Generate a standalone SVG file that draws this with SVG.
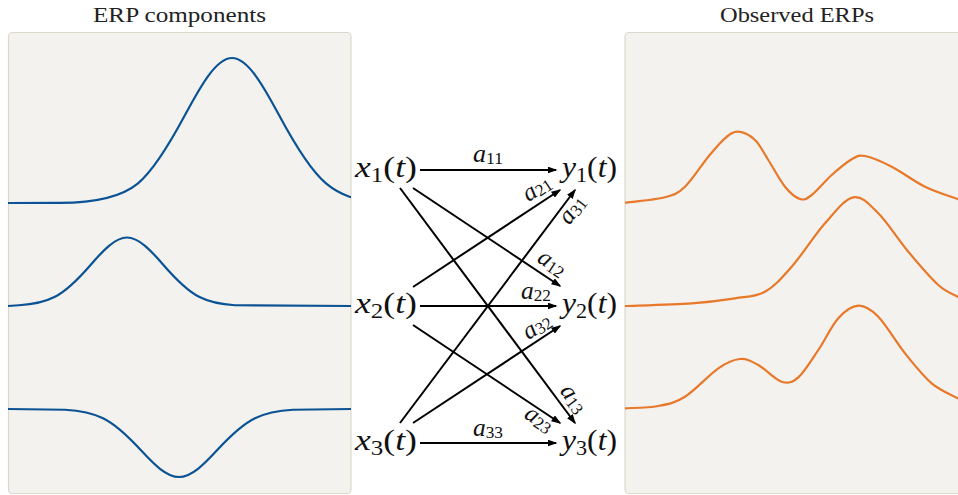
<svg xmlns="http://www.w3.org/2000/svg" width="958" height="495" viewBox="0 0 958 495">
<style>
.panel{fill:#f3f2ee;stroke:#dcd9cb;stroke-width:1.2}
.blue{fill:none;stroke:#0b5394;stroke-width:2.2;stroke-linejoin:round}
.orange{fill:none;stroke:#e8782a;stroke-width:2.2;stroke-linejoin:round}
.title{font-family:"Liberation Serif",serif;font-size:22px;fill:#222}
.lbl{font-family:"Liberation Serif",serif;font-size:30px;fill:#111}
.sub{font-size:21px;font-style:normal}
.it{font-style:italic}
.al{font-family:"Liberation Serif",serif;font-size:25px;fill:#111}
.asub{font-size:17px;font-style:normal}
.arr{fill:none;stroke:#000;stroke-width:2}
</style>
<defs>
<marker id="ah" markerUnits="userSpaceOnUse" markerWidth="10" markerHeight="7" refX="8.5" refY="3.5" orient="auto">
<path d="M0,0 L10,3.5 L0,7 z" fill="#000"/>
</marker>
<clipPath id="clipL"><rect x="8" y="32" width="343" height="462" rx="4"/></clipPath>
<clipPath id="clipR"><rect x="624.5" y="32" width="345" height="462" rx="4"/></clipPath>
</defs>
<rect width="958" height="495" fill="#ffffff"/>

<g id="panel-components">
<text class="title" x="93" y="22" textLength="173" lengthAdjust="spacingAndGlyphs">ERP components</text>
<rect class="panel" x="8.5" y="32.5" width="342.5" height="461" rx="4"/>
<g clip-path="url(#clipL)">
<path class="blue" d="M8,203 L60,202.95 C95,202.8 122,196.7 138,183.38 C153.7,170.3 169.3,144.38 185,115.06 C200.7,85.74 216.3,58 232,58 C247.7,58 263.3,85.74 279,115.06 C294.7,144.38 310.3,170.3 326,183.38 C341.7,196.46 357.3,199.78 373,201.39"/>
<path class="blue" d="M8,306 L19,305.24 C31,304.48 43,302.91 55,296.73 C67,290.55 79,278.31 91,264.45 C103,250.6 115,237.5 127,237.5 C139,237.5 151,250.6 163,264.45 C175,278.31 187,290.55 199,296.73 C211,302.91 223,304.48 235,305.24 L352,306"/>
<path class="blue" d="M8,409 L65,409.75 C77.7,410.51 90.3,412.07 103,418.2 C115.7,424.33 128.3,436.49 141,450.24 C153.7,463.99 166.3,477 179,477 C191.7,477 204.3,463.99 217,450.24 C229.7,436.49 242.3,424.33 255,418.2 C267.7,412.07 280.3,410.51 293,409.75 L352,409"/>
</g>
</g>

<g id="panel-observed">
<text class="title" x="720" y="22" textLength="154" lengthAdjust="spacingAndGlyphs">Observed ERPs</text>
<rect class="panel" x="625" y="32.5" width="345" height="461" rx="4"/>
<g clip-path="url(#clipR)">
<path class="orange" d="M625,202.7 C631.7,201.8 655,200 665,197.3 C675,194.6 677.8,193.5 685,186.7 C692.2,179.9 701.6,164.8 708.3,156.7 C715,148.6 720,142.5 725,138.3 C730,134.1 733.3,131.4 738.3,131.7 C743.3,132 750,135.3 755,140 C760,144.7 763.3,152.2 768.3,160 C773.3,167.8 779.7,180.2 785,186.7 C790.3,193.2 795.6,197.6 800,199 C804.5,200.4 806.4,199 811.7,195 C817,191 825,181 831.7,175 C838.4,169.1 846.2,162.5 851.7,159.3 C857.3,156.1 858.3,154.8 865,156 C871.7,157.2 881.7,161.6 891.7,166.7 C901.7,171.8 914,181.3 925,186.7 C936,192.1 952.3,197 957.7,199 L968,202"/>
<path class="orange" d="M625,306 C636.1,305.55 673.4,304.6 691.7,303.3 C710,302 722.8,300.2 735,298.3 C747.2,296.4 755.6,297 765,291.7 C774.5,286.4 781.7,278.1 791.7,266.7 C801.7,255.3 814.7,234.9 825,223.3 C835.3,211.7 844.4,199 853.3,197.3 C862.2,195.6 869.1,204.2 878.3,213.3 C887.5,222.4 898.3,239.8 908.3,251.7 C918.3,263.7 930.1,277.5 938.3,285 C946.5,292.5 954.5,294.8 957.7,296.7 L968,302"/>
<path class="orange" d="M625,408.3 C630.55,407.9 648.3,407.9 658.3,406 C668.3,404.1 675,403 685,396.7 C695,390.4 709.1,374.6 718.3,368.3 C727.5,362 733.3,359.55 740,359 C746.7,358.45 751.4,361.2 758.3,365 C765.3,368.8 775,379.65 781.7,381.7 C788.4,383.8 792.2,382.6 798.3,377.3 C804.4,372 811.6,359.8 818.3,350 C825,340.2 831.6,325.7 838.3,318.3 C845,310.9 851.6,306 858.3,305.7 C865,305.4 870.5,308.8 878.3,316.7 C886.1,324.6 896.1,342.2 905,353.3 C913.9,364.4 922.9,375.8 931.7,383.3 C940.5,390.8 953.4,395.8 957.7,398.3 L968,402"/>
</g>
</g>

<g id="x1"><text class="lbl" x="355" y="177" textLength="62" lengthAdjust="spacingAndGlyphs"><tspan class="it">x</tspan><tspan class="sub" dy="5">1</tspan><tspan dy="-5">(</tspan><tspan class="it">t</tspan>)</text></g>
<g id="x2"><text class="lbl" x="355" y="313" textLength="62" lengthAdjust="spacingAndGlyphs"><tspan class="it">x</tspan><tspan class="sub" dy="5">2</tspan><tspan dy="-5">(</tspan><tspan class="it">t</tspan>)</text></g>
<g id="x3"><text class="lbl" x="355" y="450" textLength="62" lengthAdjust="spacingAndGlyphs"><tspan class="it">x</tspan><tspan class="sub" dy="5">3</tspan><tspan dy="-5">(</tspan><tspan class="it">t</tspan>)</text></g>
<g id="y1"><text class="lbl" x="562" y="177" textLength="55" lengthAdjust="spacingAndGlyphs"><tspan class="it">y</tspan><tspan class="sub" dy="5">1</tspan><tspan dy="-5">(</tspan><tspan class="it">t</tspan>)</text></g>
<g id="y2"><text class="lbl" x="562" y="313" textLength="55" lengthAdjust="spacingAndGlyphs"><tspan class="it">y</tspan><tspan class="sub" dy="5">2</tspan><tspan dy="-5">(</tspan><tspan class="it">t</tspan>)</text></g>
<g id="y3"><text class="lbl" x="562" y="450" textLength="55" lengthAdjust="spacingAndGlyphs"><tspan class="it">y</tspan><tspan class="sub" dy="5">3</tspan><tspan dy="-5">(</tspan><tspan class="it">t</tspan>)</text></g>

<g id="connectors">
<line class="arr" x1="420" y1="170" x2="556" y2="170" marker-end="url(#ah)"/>
<line class="arr" x1="413" y1="188" x2="560" y2="286" marker-end="url(#ah)"/>
<line class="arr" x1="400" y1="188" x2="575" y2="423" marker-end="url(#ah)"/>
<line class="arr" x1="413" y1="287" x2="560" y2="190" marker-end="url(#ah)"/>
<line class="arr" x1="420" y1="306" x2="556" y2="306" marker-end="url(#ah)"/>
<line class="arr" x1="413" y1="325" x2="560" y2="423" marker-end="url(#ah)"/>
<line class="arr" x1="400" y1="423" x2="575" y2="190" marker-end="url(#ah)"/>
<line class="arr" x1="413" y1="423" x2="560" y2="326" marker-end="url(#ah)"/>
<line class="arr" x1="420" y1="443" x2="556" y2="443" marker-end="url(#ah)"/>

<text class="al" x="473" y="161.5" textLength="30" lengthAdjust="spacingAndGlyphs"><tspan class="it">a</tspan><tspan class="asub" dy="2">11</tspan></text>
<text class="al" x="521" y="298.5" textLength="30" lengthAdjust="spacingAndGlyphs"><tspan class="it">a</tspan><tspan class="asub" dy="2">22</tspan></text>
<text class="al" x="473" y="435.5" textLength="30" lengthAdjust="spacingAndGlyphs"><tspan class="it">a</tspan><tspan class="asub" dy="2">33</tspan></text>
<g transform="translate(538,190) rotate(-33.4)"><text class="al" x="0" y="5" text-anchor="middle"><tspan class="it">a</tspan><tspan class="asub" dy="2">21</tspan></text></g>
<g transform="translate(574,211) rotate(-53.1)"><text class="al" x="0" y="5" text-anchor="middle"><tspan class="it">a</tspan><tspan class="asub" dy="2">31</tspan></text></g>
<g transform="translate(551,265) rotate(33.7)"><text class="al" x="0" y="5" text-anchor="middle"><tspan class="it">a</tspan><tspan class="asub" dy="2">12</tspan></text></g>
<g transform="translate(572,400) rotate(53.3)"><text class="al" x="0" y="5" text-anchor="middle"><tspan class="it">a</tspan><tspan class="asub" dy="2">13</tspan></text></g>
<g transform="translate(538,421) rotate(33.7)"><text class="al" x="0" y="5" text-anchor="middle"><tspan class="it">a</tspan><tspan class="asub" dy="2">23</tspan></text></g>
<g transform="translate(538,328) rotate(-33.4)"><text class="al" x="0" y="5" text-anchor="middle"><tspan class="it">a</tspan><tspan class="asub" dy="2">32</tspan></text></g>
</g>
</svg>
